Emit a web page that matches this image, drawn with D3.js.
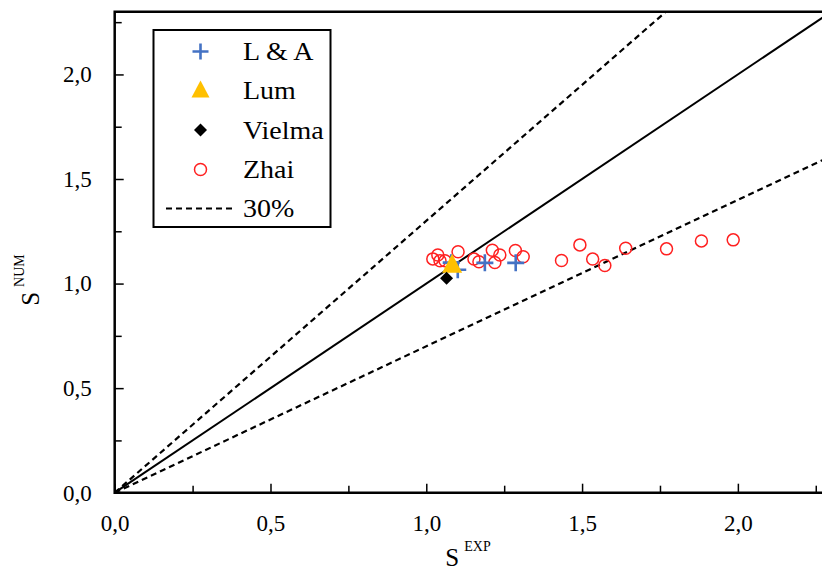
<!DOCTYPE html>
<html>
<head>
<meta charset="utf-8">
<script src="https://cdn.jsdelivr.net/npm/d3@7"></script>
<style>
  html, body { margin: 0; padding: 0; background: #fff; }
  svg { display: block; }
  text { font-family: "Liberation Serif", "DejaVu Serif", serif; fill: #000; }
</style>
</head>
<body>
<svg id="chart" width="822" height="570"></svg>
<script>
// ---- data ----
const laX = [1.08, 1.101, 1.188, 1.287];
const laY = [1.10, 1.066, 1.099, 1.099];
const lumX = [1.083];
const lumY = [1.085];
const vielmaX = [1.065];
const vielmaY = [1.026];
const zhaiX = [1.021, 1.037, 1.044, 1.060, 1.102, 1.153, 1.169, 1.212, 1.236, 1.220, 1.286, 1.311, 1.434, 1.493, 1.534, 1.573, 1.640, 1.771, 1.883, 1.985];
const zhaiY = [1.118, 1.137, 1.109, 1.109, 1.152, 1.117, 1.104, 1.159, 1.137, 1.101, 1.158, 1.128, 1.110, 1.185, 1.117, 1.086, 1.169, 1.166, 1.204, 1.209];
const boundFactors = [1.3, 0.7];
const majorTicks = [0, 0.5, 1.0, 1.5, 2.0];
const minorTicks = [0.25, 0.75, 1.25, 1.75, 2.25];
const legendLabels = ["L & A", "Lum", "Vielma", "Zhai", "30%"];

// ---- layout ----
const svg = d3.select("#chart");
const pL = 114.7, pR = 822, pT = 11.7, pB = 492.7;
const x = d3.scaleLinear().domain([0, 2.27]).range([pL, pR]);
const y = d3.scaleLinear().domain([0, 2.30]).range([pB, pT]);
const fmt = d => d3.format(".1f")(d).replace(".", ",");
const SERIF = "'Liberation Serif', 'DejaVu Serif', serif";

const defs = svg.append("defs");
defs.append("clipPath").attr("id", "plotclip")
  .append("rect").attr("x", pL).attr("y", pT).attr("width", pR - pL).attr("height", pB - pT);

// reference lines
const lineG = svg.append("g").attr("clip-path", "url(#plotclip)");
const xEnd = 3;
lineG.append("line")
  .attr("x1", x(0)).attr("y1", y(0)).attr("x2", x(xEnd)).attr("y2", y(xEnd))
  .attr("stroke", "#000").attr("stroke-width", 2);
boundFactors.forEach(f => {
  lineG.append("line")
    .attr("x1", x(0)).attr("y1", y(0)).attr("x2", x(xEnd)).attr("y2", y(xEnd * f))
    .attr("stroke", "#000").attr("stroke-width", 2.2).attr("stroke-dasharray", "6,4");
});

// axes
const xAxisMajor = d3.axisBottom(x).tickValues(majorTicks).tickSize(-9).tickFormat(fmt).tickPadding(22);
const xAxisMinor = d3.axisBottom(x).tickValues(minorTicks).tickSize(-7).tickFormat("");
const yAxisMajor = d3.axisLeft(y).tickValues(majorTicks).tickSize(-9).tickFormat(fmt).tickPadding(23);
const yAxisMinor = d3.axisLeft(y).tickValues(minorTicks).tickSize(-7).tickFormat("");

function styleAxis(g) {
  g.attr("font-family", null).attr("font-size", null);
  g.select(".domain").remove();
  g.selectAll(".tick line").attr("stroke", "#000").attr("stroke-width", 1.5);
  g.selectAll(".tick text").style("font-family", SERIF).style("font-size", "23px").attr("fill", "#000");
}
svg.append("g").attr("transform", `translate(0,${pB})`).call(xAxisMajor).call(styleAxis);
svg.append("g").attr("transform", `translate(0,${pB})`).call(xAxisMinor).call(styleAxis);
svg.append("g").attr("transform", `translate(${pL},0)`).call(yAxisMajor).call(styleAxis);
svg.append("g").attr("transform", `translate(${pL},0)`).call(yAxisMinor).call(styleAxis);

// frame lines (left, bottom, top)
svg.append("path")
  .attr("d", `M${pR + 5},${pT} H${pL} V${pB} H${pR + 5}`)
  .attr("fill", "none").attr("stroke", "#000").attr("stroke-width", 2.5);

// points
const pts = svg.append("g");
const zhai = zhaiX.map((v, i) => [v, zhaiY[i]]);
pts.selectAll("circle.zhai").data(zhai).enter().append("circle")
  .attr("class", "zhai")
  .attr("cx", d => x(d[0])).attr("cy", d => y(d[1])).attr("r", 6)
  .attr("fill", "none").attr("stroke", "#FF2020").attr("stroke-width", 1.5);

const la = laX.map((v, i) => [v, laY[i]]);
pts.selectAll("path.la").data(la).enter().append("path")
  .attr("class", "la")
  .attr("transform", d => `translate(${x(d[0])},${y(d[1])})`)
  .attr("d", "M-8.5,0H8.5M0,-8.5V8.5")
  .attr("stroke", "#4472C4").attr("stroke-width", 2.6).attr("fill", "none");

const lum = lumX.map((v, i) => [v, lumY[i]]);
pts.selectAll("path.lum").data(lum).enter().append("path")
  .attr("class", "lum")
  .attr("transform", d => `translate(${x(d[0])},${y(d[1])})`)
  .attr("d", "M0,-12L10,7L-10,7Z")
  .attr("fill", "#FFC000");

const vi = vielmaX.map((v, i) => [v, vielmaY[i]]);
pts.selectAll("path.vi").data(vi).enter().append("path")
  .attr("class", "vi")
  .attr("transform", d => `translate(${x(d[0])},${y(d[1])})`)
  .attr("d", "M0,-6.5L6.5,0L0,6.5L-6.5,0Z")
  .attr("fill", "#000");

// legend
const lg = svg.append("g");
lg.append("rect").attr("x", 153.5).attr("y", 30).attr("width", 177).attr("height", 197)
  .attr("fill", "#fff").attr("stroke", "#000").attr("stroke-width", 2);
const rowY = [51.5, 90.5, 130, 169.5, 208.5];
const symX = 200.5, textX = 243;
legendLabels.forEach((lab, i) => {
  const cy = rowY[i];
  if (i === 0) {
    lg.append("path").attr("d", `M${symX - 8},${cy}H${symX + 8}M${symX},${cy - 8}V${cy + 8}`)
      .attr("stroke", "#4472C4").attr("stroke-width", 2.6);
  } else if (i === 1) {
    lg.append("path").attr("d", `M${symX},${cy - 10}L${symX + 9},${cy + 7}L${symX - 9},${cy + 7}Z`)
      .attr("fill", "#FFC000");
  } else if (i === 2) {
    lg.append("path").attr("d", `M${symX},${cy - 6.5}L${symX + 6.5},${cy}L${symX},${cy + 6.5}L${symX - 6.5},${cy}Z`)
      .attr("fill", "#000");
  } else if (i === 3) {
    lg.append("circle").attr("cx", symX).attr("cy", cy).attr("r", 6)
      .attr("fill", "none").attr("stroke", "#FF2020").attr("stroke-width", 1.5);
  } else {
    lg.append("line").attr("x1", 166).attr("x2", 236).attr("y1", cy).attr("y2", cy)
      .attr("stroke", "#000").attr("stroke-width", 2.2).attr("stroke-dasharray", "6,4");
  }
  lg.append("text").attr("transform", `translate(${textX},${cy}) scale(1.12,1)`).attr("dy", "0.35em")
    .style("font-family", SERIF).style("font-size", "25px")
    .text(lab);
});

// axis titles
const xt = svg.append("text").attr("x", 468).attr("y", 566).attr("text-anchor", "middle")
  .style("font-family", SERIF);
xt.append("tspan").style("font-size", "25px").text("S");
xt.append("tspan").style("font-size", "14px").attr("dx", 5).attr("dy", -15).text("EXP");

const yt = svg.append("text").attr("transform", "translate(39,280) rotate(-90)").attr("text-anchor", "middle")
  .style("font-family", SERIF);
yt.append("tspan").style("font-size", "25px").text("S");
yt.append("tspan").style("font-size", "14px").attr("dx", 5).attr("dy", -15).text("NUM");
</script>
</body>
</html>
